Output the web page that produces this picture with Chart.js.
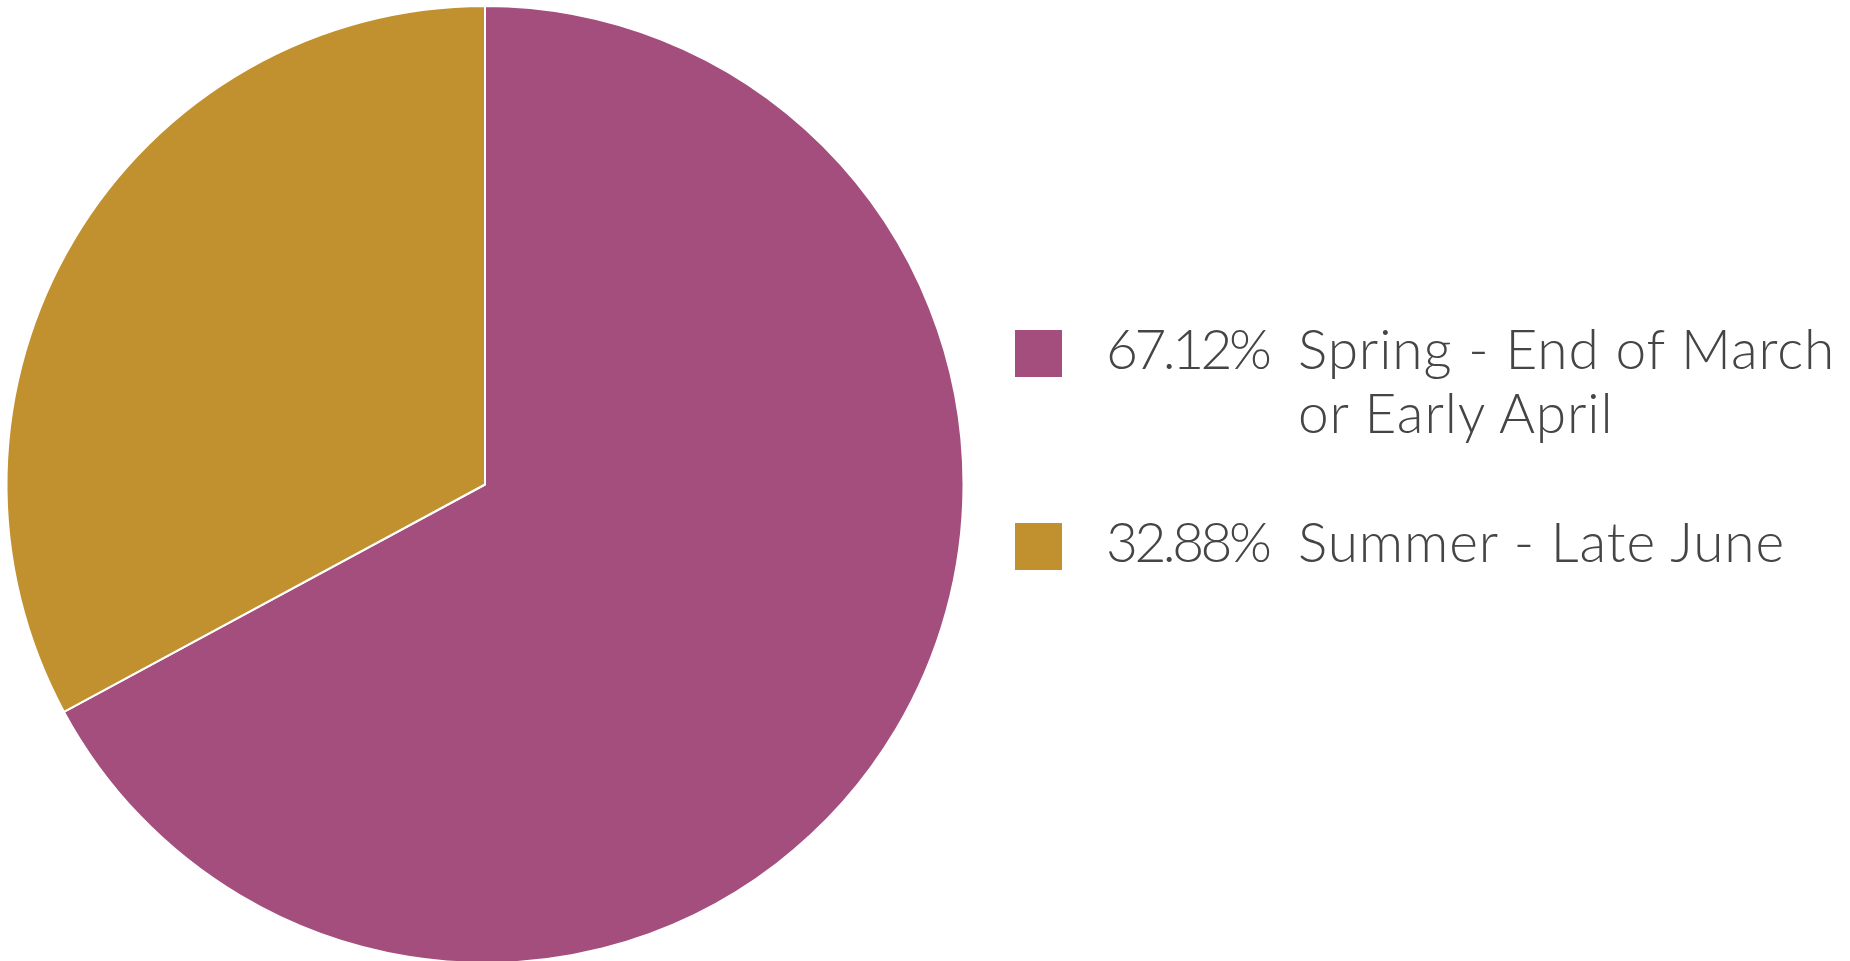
<!DOCTYPE html>
<html>
<head>
<meta charset="utf-8">
<script src="https://cdn.jsdelivr.net/npm/chart.js@4"></script>
<style>
  html, body { margin: 0; padding: 0; background: #fff; overflow: hidden; }
  #wrap { position: relative; width: 1850px; height: 961px; overflow: hidden; }
  #seasonChart { position: absolute; left: 0; top: 0; }
  #legend {
    position: absolute; left: 1015px; top: 330px;
    font-family: Lato, "Open Sans", sans-serif; font-weight: 300;
    font-size: 55px; line-height: 64px; color: #454545;
  }
  .row { display: flex; align-items: flex-start; margin-bottom: 79px; }
  .box { width: 47px; height: 47px; flex: none; }
  .pct { width: 192px; margin-left: 44px; flex: none; margin-top: -14px; letter-spacing: -3.5px; }
  .lbl { width: 560px; margin-top: -14px; letter-spacing: 0.9px; }
</style>
</head>
<body>
<div id="wrap">
  <canvas id="seasonChart" width="1850" height="970"></canvas>
  <div id="legend"></div>
</div>
<script>
// share of sightings per season
const seasons = ['Spring - End of March or Early April', 'Summer - Late June'];
const shares = [67.12, 32.88];
const sliceColors = ['#A34E7C', '#C0912E'];

const ctx = document.getElementById('seasonChart');

new Chart(ctx, {
  type: 'pie',
  data: {
    labels: seasons,
    datasets: [{
      data: shares,
      backgroundColor: sliceColors,
      borderColor: '#ffffff',
      borderWidth: 2
    }]
  },
  options: {
    responsive: false,
    animation: false,
    layout: {
      padding: { left: 4, top: 5, right: 884, bottom: 6 }
    },
    plugins: {
      legend: { display: false },
      tooltip: { enabled: false }
    }
  }
});

// legend on the right, built from the same arrays
const legend = document.getElementById('legend');
seasons.forEach((name, i) => {
  const row = document.createElement('div');
  row.className = 'row';
  row.innerHTML =
    '<div class="box" style="background:' + sliceColors[i] + '"></div>' +
    '<div class="pct">' + shares[i].toFixed(2) + '%</div>' +
    '<div class="lbl">' + name + '</div>';
  legend.appendChild(row);
});
</script>
</body>
</html>
